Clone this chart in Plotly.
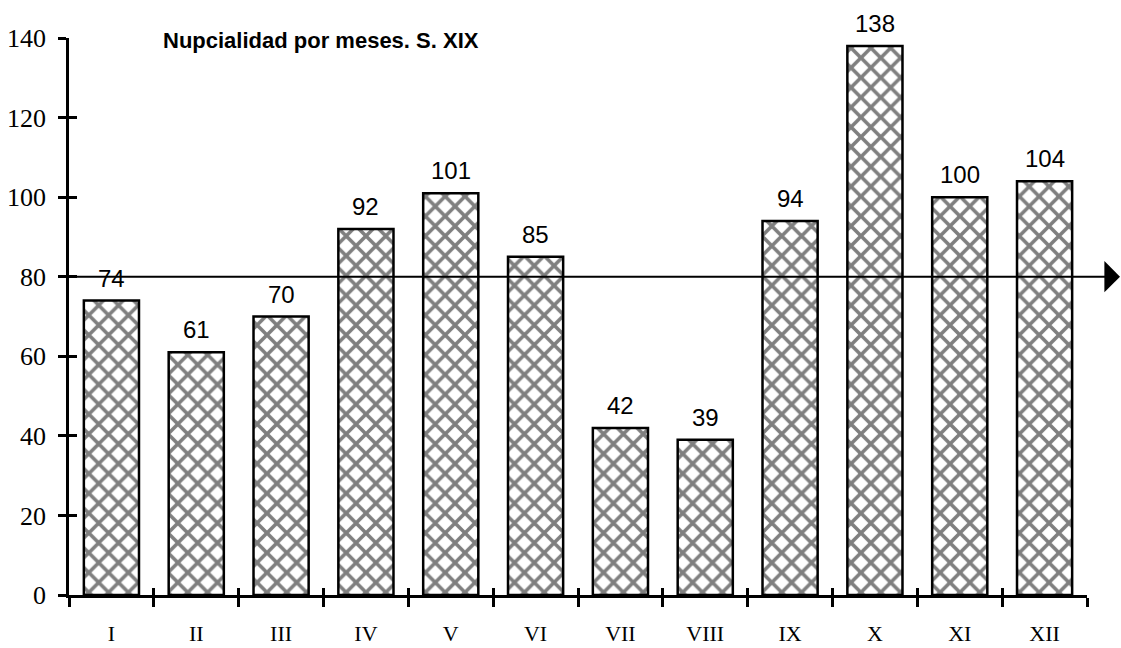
import plotly.graph_objects as go

months = ["I", "II", "III", "IV", "V", "VI", "VII", "VIII", "IX", "X", "XI", "XII"]
marriages = [74, 61, 70, 92, 101, 85, 42, 39, 94, 138, 100, 104]
y_ticks = [0, 20, 40, 60, 80, 100, 120, 140]
reference_level = 80
title_text = "Nupcialidad por meses. S. XIX"

W, H = 1121, 648
ML, MR, MT, MB = 69, 34, 38, 53

sans = "Liberation Sans, Arial, sans-serif"
serif = "Liberation Serif, Times New Roman, serif"

fig = go.Figure()
fig.add_trace(go.Bar(
    x=months, y=marriages,
    width=0.65,
    marker=dict(
        color="white",
        line=dict(color="black", width=2.5),
        pattern=dict(shape="x", size=14, solidity=0.45, fgcolor="black", bgcolor="white"),
    ),
    cliponaxis=False,
    showlegend=False, hoverinfo="x+y",
))
# invisible twin trace to carry the crossing tick marks
fig.add_trace(go.Scatter(x=months, y=marriages, mode="none", xaxis="x2", yaxis="y2",
                         showlegend=False, hoverinfo="skip"))

for m, v in zip(months, marriages):
    fig.add_annotation(x=m, y=v, xref="x", yref="y", text=str(v), showarrow=False,
                       yanchor="bottom", yshift=7,
                       font=dict(family=sans, size=24, color="black"))

fig.update_layout(
    width=W, height=H,
    margin=dict(l=ML, r=MR, t=MT, b=MB, pad=0, autoexpand=False),
    paper_bgcolor="white", plot_bgcolor="white",
    bargap=0.35,
    title=dict(text="<b>" + title_text + "</b>", x=163 / W, xref="container", xanchor="left",
               y=1 - 40 / H, yref="container", yanchor="middle",
               font=dict(family=sans, size=22, color="black")),
    xaxis=dict(type="category", range=[-0.5, 11.5], tickson="boundaries", automargin=False,
               showline=True, linecolor="black", linewidth=2.5, showgrid=False, zeroline=False,
               ticks="outside", ticklen=9, tickwidth=2.5, tickcolor="black",
               ticklabelstandoff=17,
               tickfont=dict(family=serif, size=22, color="black")),
    yaxis=dict(range=[0, 140], tickvals=y_ticks, automargin=False,
               showline=True, linecolor="black", linewidth=2.5,
               showgrid=False, zeroline=False,
               ticks="outside", ticklen=8, tickwidth=2.5, tickcolor="black",
               ticklabelstandoff=7,
               tickfont=dict(family=serif, size=26, color="black")),
    xaxis2=dict(type="category", range=[-0.5, 11.5], tickson="boundaries", overlaying="x",
                anchor="y2", side="bottom", showline=False, showgrid=False, zeroline=False,
                automargin=False,
                ticks="inside", ticklen=7, tickwidth=2.5, tickcolor="black", showticklabels=False),
    yaxis2=dict(range=[0, 140], tickvals=y_ticks, overlaying="y", anchor="x2", side="left",
                showline=False, showgrid=False, zeroline=False, automargin=False,
                ticks="inside", ticklen=8, tickwidth=2.5, tickcolor="black", showticklabels=False),
)

tip_px = 1124
fig.add_annotation(
    x=(tip_px - ML) / (W - ML - MR), xref="paper", y=reference_level, yref="y",
    ax=-(tip_px - ML - 2), ay=0, axref="pixel", ayref="pixel",
    showarrow=True, arrowhead=1, arrowsize=2.6, arrowwidth=2, arrowcolor="black", text="",
)

fig.write_html("out.html", config={"displayModeBar": False},
               post_script="document.body.style.margin='0';document.body.style.overflow='hidden';")
